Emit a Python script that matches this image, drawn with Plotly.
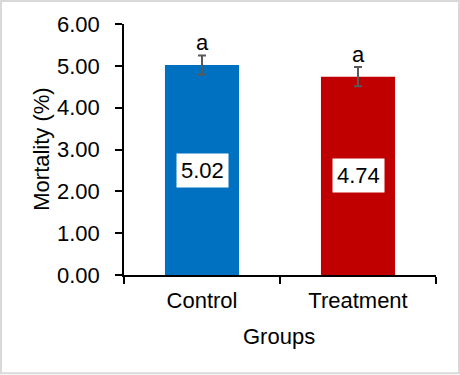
import plotly.graph_objects as go

groups = ["Control", "Treatment"]
mortality = [5.02, 4.74]
errors = [0.23, 0.23]
letters = ["a", "a"]
colors = ["#0070C0", "#C00000"]
y_ticks = [0, 1, 2, 3, 4, 5, 6]
y_tick_labels = ["0.00", "1.00", "2.00", "3.00", "4.00", "5.00", "6.00"]

FONT = "Liberation Sans, Arial, sans-serif"
FS = 22

fig = go.Figure()
fig.add_trace(go.Bar(
    x=groups, y=mortality,
    marker=dict(color=colors, line=dict(width=0)),
    width=0.475,
    error_y=dict(type="data", array=errors, visible=True,
                 color="#595959", thickness=2, width=4),
    showlegend=False,
))

for g, v, e, l in zip(groups, mortality, errors, letters):
    fig.add_annotation(x=g, y=v + e, text=l, showarrow=False,
                       yanchor="bottom", yshift=-2,
                       font=dict(family=FONT, size=FS, color="black"))
    fig.add_annotation(x=g, y=v / 2, text=f"{v:.2f}", showarrow=False,
                       yanchor="middle", bgcolor="white", borderpad=4,
                       font=dict(family=FONT, size=FS, color="black"))

L, R, T, B = 124, 24, 24, 99.5
W, H = 460, 375
pw, ph = W - L - R, H - T - B

fig.add_annotation(xref="paper", yref="paper", x=(279 - L) / pw, y=(H - B - 337) / ph,
                   text="Groups", showarrow=False, xanchor="center", yanchor="middle",
                   font=dict(family=FONT, size=FS, color="black"))
fig.add_annotation(xref="paper", yref="paper", x=(42 - L) / pw, y=(H - B - 150) / ph,
                   text="Mortality (%)", showarrow=False, textangle=-90,
                   xanchor="center", yanchor="middle",
                   font=dict(family=FONT, size=FS, color="black"))

fig.add_shape(type="rect", xref="paper", yref="paper",
              x0=(1 - L) / pw, x1=(459 - L) / pw,
              y0=(H - B - 374) / ph, y1=(H - B - 1) / ph,
              line=dict(color="#D9D9D9", width=2), fillcolor="rgba(0,0,0,0)")

fig.update_layout(
    width=W, height=H,
    margin=dict(l=L, r=R, t=T, b=B, autoexpand=False),
    paper_bgcolor="white", plot_bgcolor="white",
    font=dict(family=FONT, size=FS, color="black"),
    bargap=0.525,
    xaxis=dict(showline=True, linecolor="black", linewidth=1.5,
               ticks="outside", tickson="boundaries", ticklen=7,
               tickwidth=1.5, tickcolor="black", showgrid=False,
               ticklabelstandoff=5,
               tickfont=dict(family=FONT, size=FS, color="black")),
    yaxis=dict(range=[0, 6], tickvals=y_ticks, ticktext=y_tick_labels,
               showline=True, linecolor="black", linewidth=1.5,
               ticks="outside", ticklen=7, tickwidth=1.5, tickcolor="black",
               showgrid=False, zeroline=False, ticklabelstandoff=11,
               tickfont=dict(family=FONT, size=FS, color="black")),
)

fig.write_html("out.html", config={"displayModeBar": False},
               post_script="document.body.style.margin='0';document.body.style.overflow='hidden';")
